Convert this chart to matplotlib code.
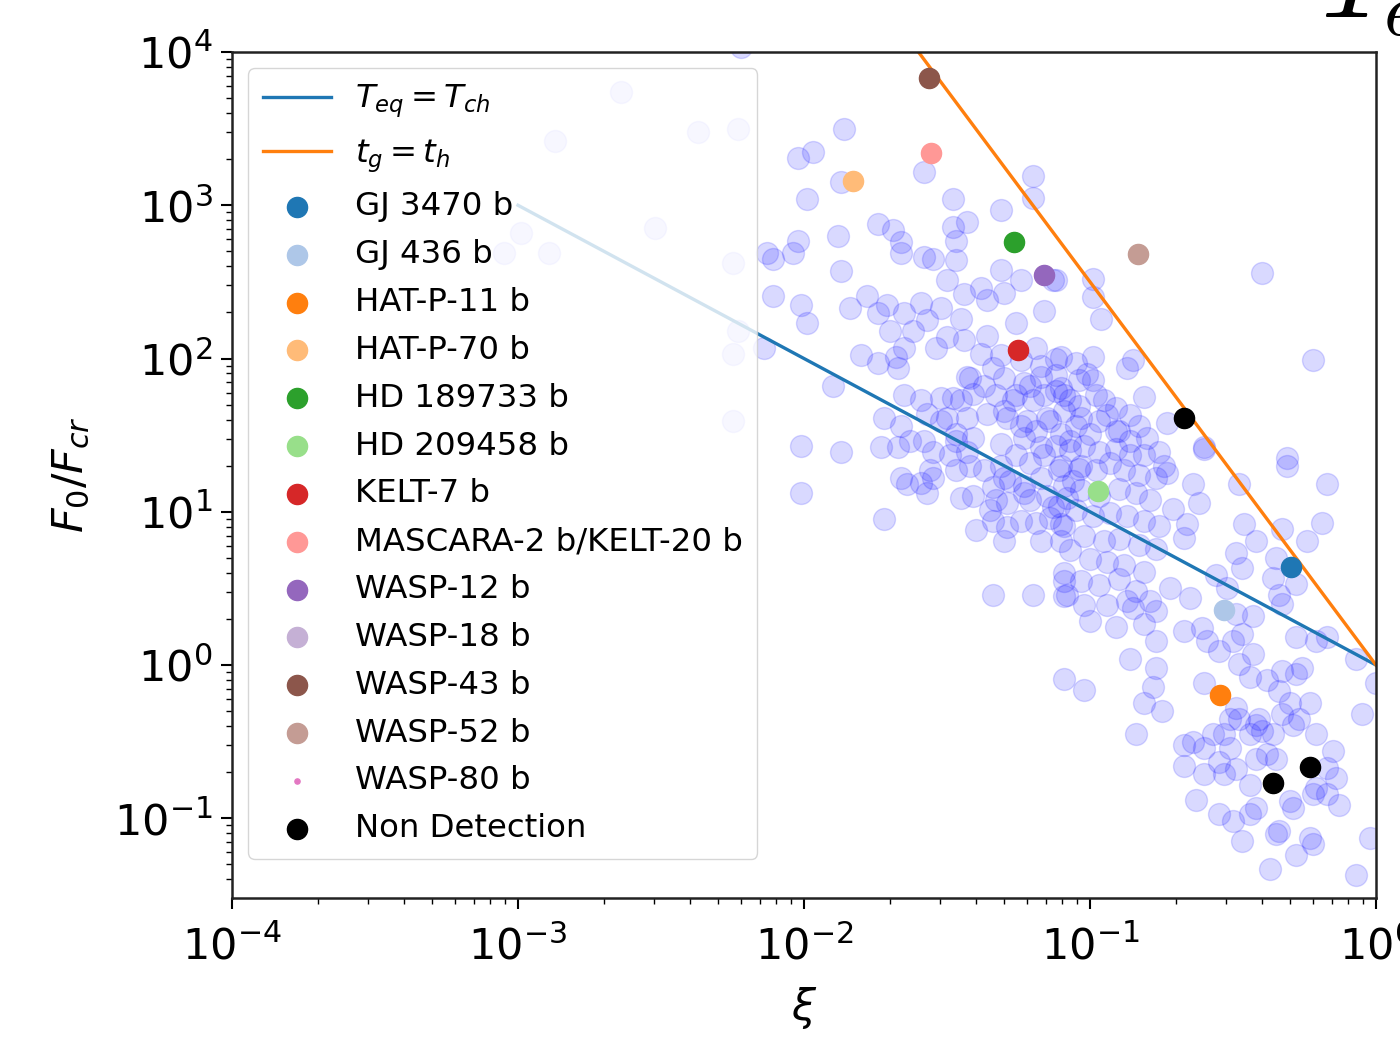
import matplotlib
matplotlib.use("Agg")
import matplotlib.pyplot as plt
import numpy as np

# ---------------- data ----------------
# background population: log10(xi), log10(F0/Fcr)
log_xi_bg = [
    -1.86, -2.02, -1.97, -1.87, -1.58, -1.99, -1.20, -1.20, -1.48, -1.31,
    -1.74, -1.69, -1.66, -1.66, -1.48, -1.43, -1.47, -1.88, -2.02, -2.04,
    -2.13, -2.11, -1.58, -1.55, -1.47, -1.87, -1.31, -1.50, -1.13, -1.24,
    -1.38, -1.44, -1.30, -1.36, -2.11, -2.01, -1.99, -1.84, -1.78, -1.74,
    -1.71, -1.65, -1.59, -1.52, -1.16, -1.26, -1.70, -1.62, -1.57, -1.45,
    -1.50, -1.44, -1.36, -1.65, -1.54, -1.80, -1.74, -1.68, -1.67, -1.90,
    -2.14, -1.19, -1.12, -1.38, -1.34, -1.43, -1.30, -1.23, -1.17, -1.10,
    -1.65, -1.59, -1.52, -1.48, -1.41, -1.33, -1.27, -1.20, -1.72, -1.66,
    -1.57, -1.50, -1.43, -1.36, -1.29, -1.22, -1.15, -2.01, -1.87, -1.73,
    -1.67, -1.55, -1.47, -1.41, -1.31, -1.23, -1.17, -1.10,
    -0.99, -0.99, -0.96, -1.12, -0.40, -0.22, -0.85, -0.87, -0.81, -0.73,
    -0.83, -0.80, -0.60, -0.31, -1.10, -1.05, -0.99, -1.01, -0.99, -0.95,
    -1.07, -1.12, -1.03, -0.97, -0.91, -0.91, -1.00, -1.07, -0.86,
    -1.43, -2.01, -1.72, -1.66, -1.64, -1.59, -1.55, -1.57, -1.45, -1.41,
    -1.34, -1.30, -1.33, -1.29, -1.34, -1.29, -1.23, -1.21, -1.19, -1.14,
    -1.10, -1.13, -1.08, -1.34, -1.20, -1.09, -1.08, -1.09,
    -0.31, -0.17, -0.48, -0.60, -0.74, -0.64, -0.62, -0.71, -0.66, -0.67,
    -0.46, -0.42, -0.33, -0.24, -0.19, -0.49, -0.47, -0.35, -0.36, -0.33,
    -0.28, -0.34, -0.56, -0.52, -0.65, -0.72, -0.79, -0.85, -0.77, -0.81,
    -0.67, -0.61, -0.59, -0.49, -0.47, -0.50, -0.43, -0.28, -0.21, -0.17,
    -0.07, -0.55, -0.43, -0.77, -0.86, -0.77, -1.02, -0.78, -0.81, -0.75,
    -0.84, -0.60, -0.48, -0.44, -0.38, -0.33, -0.28, -0.26, -0.34, -0.30,
    -0.23, -0.27, -0.33, -0.49, -0.48, -0.42, -0.40, -0.36, -0.29, -0.21,
    -0.05, -0.15, -0.17, -0.14, -0.21, -0.22, -0.13, -0.02, -0.07, -0.23,
    -0.22, -0.28, -0.34, -0.37, -0.35, -0.42, -0.44, -0.30, -0.29, -0.47,
    -0.50, -0.55, -0.63, -0.53, -0.49, -0.44, -0.67, -0.64, -0.60, -0.57,
    -0.53, -0.51, -0.67, -0.42, -0.38, -0.44, -0.51, -0.41, -0.35, -0.55,
    -0.60, -0.17, -0.00,
    -1.12, -1.07, -1.02, -0.97, -0.91, -0.86, -0.81, -0.76, -1.10, -1.04,
    -0.98, -0.93, -0.88, -0.83, -0.77, -0.73, -1.09, -1.03, -0.97, -0.90,
    -0.84, -0.79, -1.11, -1.05, -0.99, -0.93, -0.87, -0.81, -0.76, -1.09,
    -1.02, -0.95, -0.90, -0.83, -0.77, -1.07, -1.00, -0.94, -0.88, -0.81,
    -1.09, -1.03, -0.97, -0.90, -0.84, -1.09, -1.02, -0.94, -0.87, -1.00,
    -0.91,
    -1.17, -1.12, -1.09, -1.04, -1.16, -1.21, -1.26, -1.30, -1.24, -1.19,
    -1.14, -1.09, -1.05, -1.16, -1.21, -1.26, -1.31, -1.37, -1.42, -1.47,
    -1.28, -1.23, -1.17, -1.11, -1.06, -1.03, -1.15, -1.10, -1.17, -1.24,
    -1.30, -1.40, -1.35, -0.98, -0.94, -0.90, -0.86, -1.04, -1.24, -1.31,
    -1.37, -1.42, -1.45, -1.52, -1.47, -1.58, -1.63, -1.49, -1.56,
    -2.64, -2.87, -2.37, -2.23, -2.99, -3.05, -2.89, -2.52, -2.25, -2.25,
    -2.25, -2.22, -2.23,
]
log_f_bg = [
    3.50, 3.31, 3.35, 3.15, 3.22, 3.04, 3.19, 3.05, 3.04, 2.97,
    2.88, 2.84, 2.76, 2.69, 2.86, 2.89, 2.77, 2.80, 2.77, 2.69,
    2.69, 2.65, 2.66, 2.65, 2.64, 2.57, 2.58, 2.51, 2.51, 2.51,
    2.46, 2.42, 2.43, 2.38, 2.41, 2.35, 2.23, 2.33, 2.41, 2.30,
    2.35, 2.30, 2.36, 2.33, 2.31, 2.23, 2.18, 2.18, 2.25, 2.26,
    2.14, 2.12, 2.15, 2.07, 2.07, 2.02, 1.97, 2.01, 1.94, 1.82,
    2.07, 2.07, 2.00, 2.03, 1.94, 1.88, 1.87, 1.84, 1.88, 1.81,
    1.76, 1.73, 1.74, 1.74, 1.77, 1.76, 1.73, 1.73, 1.61, 1.56,
    1.64, 1.61, 1.61, 1.64, 1.61, 1.59, 1.61, 1.43, 1.39, 1.42,
    1.42, 1.39, 1.51, 1.48, 1.44, 1.48, 1.42, 1.51,
    2.52, 2.40, 2.26, 2.51, 2.56, 1.99, 1.99, 1.94, 1.75, 1.58,
    1.56, 1.48, 1.42, 1.35, 2.01, 1.97, 2.01, 1.90, 1.86, 1.73,
    1.73, 1.79, 1.61, 1.59, 1.68, 1.53, 1.51, 1.46, 1.46,
    1.39, 1.12, 0.95, 1.22, 1.18, 1.19, 1.22, 1.12, 1.09, 1.10,
    1.16, 1.22, 1.08, 1.06, 0.94, 0.90, 1.12, 1.08, 0.93, 0.96,
    0.92, 1.03, 1.09, 0.46, 0.46, 0.55, 0.46, -0.09,
    1.30, 1.18, 1.18, 1.41, 1.30, 1.18, 1.06, 1.02, 0.92, 0.83,
    0.92, 0.81, 0.89, 0.81, 0.93, 0.73, 0.63, 0.70, 0.57, 0.40,
    0.53, 0.46, 0.59, 0.50, 0.44, 0.50, 0.42, 0.37, 0.35, 0.27,
    0.22, 0.24, 0.16, 0.33, 0.20, 0.16, 0.32, 0.18, 0.16, 0.18,
    0.04, 0.09, 0.07, 0.16, 0.04, -0.02, -0.16, -0.14, -0.25, -0.30,
    -0.45, -0.12, 0.01, -0.08, -0.10, -0.04, -0.06, -0.02, -0.17, -0.25,
    -0.25, -0.35, -0.32, -0.28, -0.35, -0.39, -0.43, -0.45, -0.39, -0.45,
    -0.32, -0.56, -0.67, -0.74, -0.80, -0.84, -0.91, -1.13, -1.37, -1.13,
    -1.17, -1.24, -1.08, -1.33, -1.10, -0.93, -0.97, -0.89, -0.93, -1.15,
    -1.02, -0.97, -0.88, -0.71, -0.68, -0.78, -0.66, -0.50, -0.54, -0.45,
    -0.45, -0.54, -0.52, -0.61, -0.58, -0.45, -0.35, -0.35, -0.61, -0.63,
    -0.71, -0.84, -0.12,
    1.43, 1.40, 1.43, 1.39, 1.41, 1.37, 1.37, 1.39, 1.30, 1.28,
    1.27, 1.32, 1.27, 1.24, 1.22, 1.25, 1.17, 1.14, 1.10, 1.15,
    1.12, 1.08, 1.04, 1.01, 0.97, 0.99, 0.97, 0.94, 0.91, 0.91,
    0.84, 0.81, 0.82, 0.78, 0.76, 0.75, 0.69, 0.67, 0.65, 0.61,
    0.60, 0.55, 0.52, 0.56, 0.48, 0.45, 0.39, 0.39, 0.42, 0.29,
    0.25,
    1.95, 1.89, 1.76, 1.69, 1.76, 1.82, 1.76, 1.66, 1.56, 1.53,
    1.59, 1.66, 1.56, 1.37, 1.32, 1.37, 1.30, 1.27, 1.30, 1.27,
    1.20, 1.17, 1.22, 1.27, 1.20, 1.30, 1.10, 0.81, 0.81, 0.94,
    0.81, 0.88, 1.01, 1.76, 1.63, 1.53, 1.63, 1.86, 1.99, 2.02,
    1.82, 1.87, 1.73, 1.59, 1.46, 1.46, 1.46, 1.37, 1.27,
    3.74, 3.42, 3.48, 3.50, 2.82, 2.69, 2.69, 2.85, 2.62, 2.03,
    1.59, 4.03, 2.18,
]

# named planets
planet_names = ["GJ 3470 b", "GJ 436 b", "HAT-P-11 b", "HAT-P-70 b", "HD 189733 b",
                "HD 209458 b", "KELT-7 b", "MASCARA-2 b/KELT-20 b", "WASP-12 b",
                "WASP-18 b", "WASP-43 b", "WASP-52 b", "WASP-80 b"]
planet_xi = [0.505, 0.294, 0.285, 0.0148, 0.0542, 0.107, 0.056, 0.0278, 0.069,
             0.012, 0.0274, 0.147, 1.5]
planet_f = [4.37, 2.29, 0.637, 1435.0, 573.0, 13.7, 113.0, 2188.0, 349.0,
            3.0e4, 6760.0, 479.0, 0.02]

nondet_xi = [0.213, 0.436, 0.588]
nondet_f = [41.1, 0.169, 0.216]

# boundary lines
teq_xi = [1e-3, 1.0]
teq_f = [1e3, 1.0]
tg_xi = [0.02, 1.0]
tg_f = [1.77e4, 1.0]

# ---------------- styling ----------------
planet_colors = ["#1f77b4", "#aec7e8", "#ff7f0e", "#ffbb78", "#2ca02c", "#98df8a",
                 "#d62728", "#ff9896", "#9467bd", "#c5b0d5", "#8c564b", "#c49c94",
                 "#e377c2"]
planet_sizes = [210] * 12 + [14]

plt.rcParams['font.family'] = ['DejaVu Sans']
plt.rcParams['mathtext.fontset'] = 'dejavusans'

fig = plt.figure(figsize=(14, 10.37), dpi=100)
ax = fig.add_axes([232 / 1400, 1 - 898 / 1037, (1376 - 232) / 1400, (898 - 52) / 1037])

ax.scatter(10 ** np.array(log_xi_bg), 10 ** np.array(log_f_bg), s=250,
           color='blue', alpha=0.15, zorder=1)

ax.plot(teq_xi, teq_f, color='#1f77b4', lw=2.4, label=r'$T_{eq} = T_{ch}$', zorder=2)
ax.plot(tg_xi, tg_f, color='#ff7f0e', lw=2.4, label=r'$t_g = t_h$', zorder=2)

for name, x, y, c, s in zip(planet_names, planet_xi, planet_f, planet_colors, planet_sizes):
    ax.scatter([x], [y], s=s, color=c, label=name, zorder=3)
ax.scatter(nondet_xi, nondet_f, s=210, color='black', label='Non Detection', zorder=3)

ax.set_xscale('log')
ax.set_yscale('log')
ax.set_xlim(1e-4, 1.0)
ax.set_ylim(10 ** -1.52, 1e4)

ax.set_xlabel(r'$\xi$', fontsize=31, labelpad=12)
ax.set_ylabel(r'$F_0/F_{cr}$', fontsize=31, labelpad=16)

ax.tick_params(axis='both', which='major', labelsize=31, length=8, width=1.5, pad=6)
ax.tick_params(axis='x', which='major', pad=12)
ax.tick_params(axis='both', which='minor', length=4, width=1.0)
for sp in ax.spines.values():
    sp.set_linewidth(1.8)
    sp.set_color('#222222')

leg = ax.legend(loc='upper left', fontsize=23.3, framealpha=0.8,
                handlelength=2.1, handletextpad=0.75, labelspacing=0.52,
                borderpad=0.45, borderaxespad=0.5)

fig.text(1320 / 1400, 1 - 18 / 1037, r'$T_e$', fontsize=78, math_fontfamily='cm',
         ha='left', va='baseline')

fig.savefig('out.png', dpi=100)
